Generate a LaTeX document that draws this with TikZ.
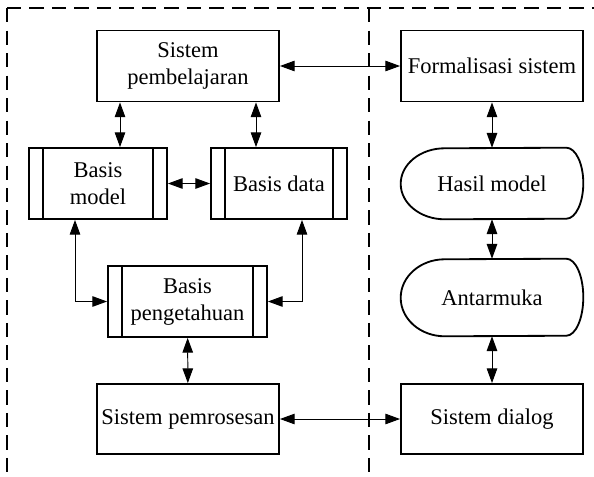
\documentclass[tikz,border=0pt]{standalone}
\usepackage{fontspec}
\setmainfont{Liberation Serif}
\usetikzlibrary{arrows.meta}
\tikzset{
  fc/.style={x=0.025cm, y=-0.025cm, >={Triangle[length=10.5pt,width=7.5pt]}, font=\fontsize{16}{19.2}\selectfont,
             every node/.style={align=center, inner sep=0pt, minimum width=4.55cm, minimum height=1.775cm}},
  box/.style={draw, line width=1.3pt},
  base/.style={box, path picture={\draw[line width=1.3pt]
      ([xshift=.35cm]path picture bounding box.north west) -- ([xshift=.35cm]path picture bounding box.south west)
      ([xshift=-.35cm]path picture bounding box.north east) -- ([xshift=-.35cm]path picture bounding box.south east);}},
  disp/.style={draw=none},
  link/.style={<->, line width=0.7pt},
  frame/.style={line width=1.1pt, dash pattern=on 10pt off 6pt}
}

\begin{document}
\begin{tikzpicture}[fc]
\useasboundingbox (0,0) rectangle (594,476);
% dashed frame
\draw[frame] (7,8) -- (594,8); \draw[frame] (7,8) -- (7,476); \draw[frame] (369,8) -- (369,476);
\node[box] (lern) at (188,66) {Sistem\\pembelajaran};
\node[box] (formal) at (492,66) {Formalisasi sistem};
\node[base, minimum width=3.45cm] (model) at (98,183.5) {Basis\\model};
\node[base, minimum width=3.4cm] (data) at (279,183.5) {Basis data};
\node[disp] (hasil) at (492,183.5) {Hasil model};
\node[base, minimum width=3.975cm] (tahu) at (187.5,301.5) {Basis\\pengetahuan};
\node[disp, minimum height=1.925cm] (antar) at (492,297.5) {Antarmuka};
\node[box, minimum height=1.75cm] (proses) at (188,419) {Sistem pemrosesan};
\node[box, minimum height=1.75cm] (dialog) at (492,419) {Sistem dialog};
% display outlines
\foreach \n/\r in {hasil/.8875cm, antar/.9625cm}
  \draw[line width=1.3pt] ([xshift=1.1cm]\n.south west) arc[start angle=270, end angle=90, x radius=1.1cm, y radius=\r]
    -- ([xshift=-.425cm]\n.north east) arc[start angle=90, end angle=-90, x radius=.425cm, y radius=\r] -- cycle;
\draw[link] (lern) -- (formal);
\draw[link] (lern.south -| 120,0) -- (model.north -| 120,0);
\draw[link] (lern.south -| 256,0) -- (data.north -| 256,0);
\draw[link] (model) -- (data);
\draw[link] (model.south -| 75,0) |- (tahu.west);
\draw[link] (data.south -| 302,0) |- (tahu.east);
\draw[link] (tahu) -- (proses);
\draw[link] (proses) -- (dialog);
\draw[link] (formal) -- (hasil); \draw[link] (hasil) -- (antar); \draw[link] (antar) -- (dialog);
\end{tikzpicture}
\end{document}
